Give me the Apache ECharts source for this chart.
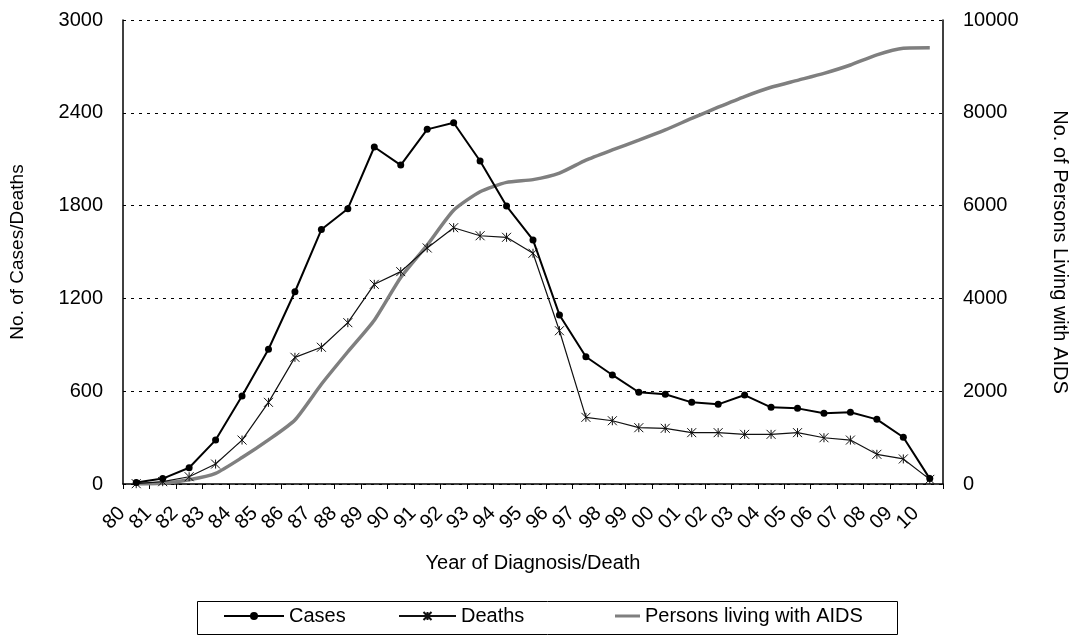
<!DOCTYPE html>
<html>
<head>
<meta charset="utf-8">
<script src="https://cdn.jsdelivr.net/npm/echarts@6/dist/echarts.min.js"></script>
<style>
  html, body { margin: 0; padding: 0; background: #fff; }
  #chart { width: 1078px; height: 636px; }
</style>
</head>
<body>
<div id="chart"></div>
<script>
// Year labels (1980 - 2010)
const years = ['80','81','82','83','84','85','86','87','88','89','90','91','92','93','94','95','96','97','98','99','00','01','02','03','04','05','06','07','08','09','10'];
// New AIDS cases by year of diagnosis
const cases = [10,35,105,284,569,871,1243,1645,1780,2179,2062,2293,2336,2088,1797,1578,1093,823,705,593,580,528,515,575,496,489,457,464,418,302,35];
// Deaths by year of death
const deaths = [2,15,47,129,284,528,819,884,1043,1291,1373,1526,1657,1605,1595,1492,991,431,409,364,360,332,332,321,321,332,299,284,192,162,30];
// Persons living with AIDS at year end
const living = [0,15,90,230,570,950,1380,2150,2850,3530,4450,5150,5900,6300,6500,6560,6700,6980,7200,7410,7630,7880,8120,8350,8550,8700,8850,9030,9250,9390,9400];
// Axis ticks
const leftTicks = { min: 0, max: 3000, interval: 600 };
const rightTicks = { min: 0, max: 10000, interval: 2000 };

const FONT = '"Liberation Sans", Arial, sans-serif';
// asterisk-like marker: an X with a vertical stroke
const crossSymbol = 'path://M0,0L10,10M10,0L0,10M5,0L5,10';

const legendText = { fontFamily: FONT, fontSize: 20, color: '#000' };
const plain = v => String(v);

const chart = echarts.init(document.getElementById('chart'), null, { renderer: 'canvas' });
chart.setOption({
  animation: false,
  backgroundColor: '#fff',
  textStyle: { fontFamily: FONT, color: '#000' },
  grid: { left: 123, right: 132, top: 20, bottom: 152 },
  graphic: [{
    type: 'rect',
    shape: { x: 197.5, y: 601.5, width: 700, height: 33 },
    style: { fill: 'none', stroke: '#000', lineWidth: 1 },
    silent: true
  }],
  legend: [
    {
      data: ['Cases'], left: 223, top: 606,
      itemWidth: 60, itemHeight: 10, padding: 0,
      textStyle: legendText
    },
    {
      data: ['Deaths'], left: 398, top: 606,
      itemWidth: 57, itemHeight: 10, padding: 0,
      textStyle: legendText
    },
    {
      data: [{ name: 'Persons living with AIDS', icon: 'rect' }], left: 615, top: 606,
      itemWidth: 25, itemHeight: 3, padding: 0,
      textStyle: legendText
    }
  ],
  xAxis: {
    type: 'category',
    data: years,
    boundaryGap: true,
    name: 'Year of Diagnosis/Death',
    nameLocation: 'middle',
    nameGap: 69,
    nameTextStyle: { fontSize: 20, color: '#000' },
    axisLine: { lineStyle: { color: '#000', width: 1.5 } },
    axisTick: { show: true, length: 5, lineStyle: { color: '#000' } },
    axisLabel: { rotate: 45, fontSize: 20, color: '#000', margin: 12, interval: 0, padding: [0, 20, 0, 0] },
    splitLine: { show: false }
  },
  yAxis: [
    {
      type: 'value',
      min: leftTicks.min, max: leftTicks.max, interval: leftTicks.interval,
      name: 'No. of Cases/Deaths',
      nameLocation: 'middle',
      nameGap: 96,
      nameTextStyle: { fontSize: 19, color: '#000' },
      axisLine: { show: true, lineStyle: { color: '#000', width: 1.5 } },
      axisTick: { show: false },
      axisLabel: { fontSize: 20, color: '#000', margin: 20, formatter: plain },
      splitLine: { show: true, lineStyle: { color: '#000', type: [3, 5], width: 1 } }
    },
    {
      type: 'value',
      min: rightTicks.min, max: rightTicks.max, interval: rightTicks.interval,
      name: 'No. of Persons Living with AIDS',
      nameLocation: 'middle',
      nameRotate: -90,
      nameGap: 107,
      nameTextStyle: { fontSize: 20, color: '#000' },
      axisLine: { show: true, lineStyle: { color: '#000', width: 1.5 } },
      axisTick: { show: false },
      axisLabel: { fontSize: 20, color: '#000', margin: 20, formatter: plain },
      splitLine: { show: false }
    }
  ],
  series: [
    {
      name: 'Persons living with AIDS',
      type: 'line',
      yAxisIndex: 1,
      data: living,
      smooth: 0.2,
      showSymbol: false,
      symbol: 'none',
      lineStyle: { color: '#7f7f7f', width: 3.5 },
      itemStyle: { color: '#7f7f7f' },
      z: 2
    },
    {
      name: 'Deaths',
      type: 'line',
      yAxisIndex: 0,
      data: deaths,
      symbol: crossSymbol,
      symbolSize: 9,
      lineStyle: { color: '#111', width: 1.2 },
      itemStyle: { color: 'none', borderColor: '#111', borderWidth: 1 },
      z: 3
    },
    {
      name: 'Cases',
      type: 'line',
      yAxisIndex: 0,
      data: cases,
      symbol: 'circle',
      symbolSize: 7,
      lineStyle: { color: '#000', width: 2 },
      itemStyle: { color: '#000' },
      z: 4
    }
  ]
});
</script>
</body>
</html>
